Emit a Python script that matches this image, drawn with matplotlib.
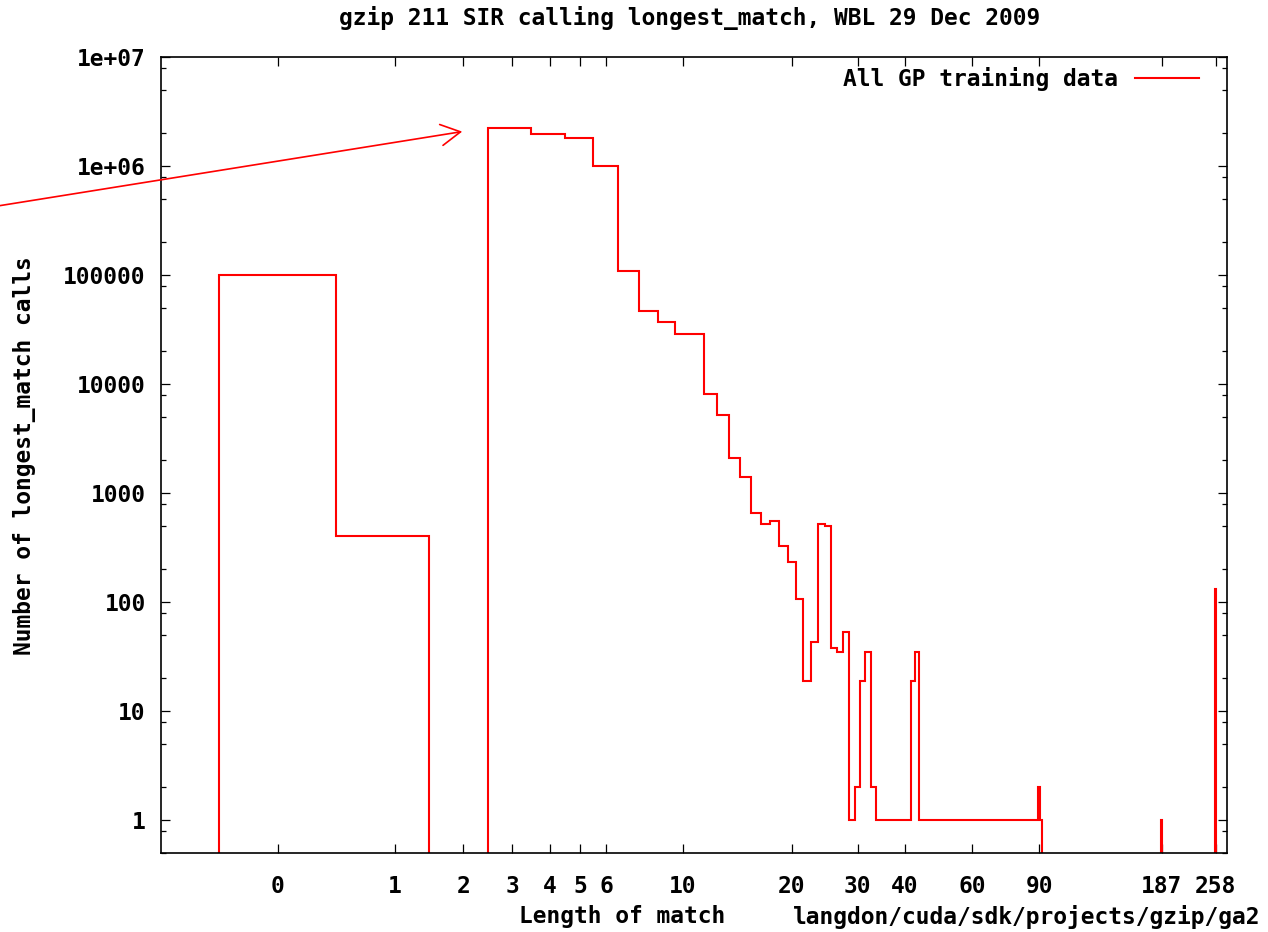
import numpy as np
import matplotlib
matplotlib.use("Agg")
import matplotlib.pyplot as plt
from matplotlib.ticker import FixedLocator, LogLocator, NullFormatter

# ---------------- data ----------------
title = "gzip 211 SIR calling longest_match, WBL 29 Dec 2009"
xlabel = "Length of match"
xnote = "langdon/cuda/sdk/projects/gzip/ga2"
ylabel = "Number of longest_match calls"
series_label = "All GP training data"

max_length = 258
# non-zero counts per match length (every other length 0..258 has count 0)
lengths = [0, 1, 3, 4, 5, 6, 7, 8, 9, 10, 11, 12, 13, 14, 15, 16, 17, 18, 19,
           20, 21, 22, 23, 24, 25, 26, 27, 28, 29, 30, 31, 32, 33,
           34, 35, 36, 37, 38, 39, 40, 41, 42, 43,
           44, 45, 46, 47, 48, 49, 50, 51, 52, 53, 54, 55, 56, 57, 58, 59,
           60, 61, 62, 63, 64, 65, 66, 67, 68, 69, 70, 71, 72, 73, 74, 75,
           76, 77, 78, 79, 80, 81, 82, 83, 84, 85, 86, 87, 88, 89,
           90, 91, 187, 258]
counts = [100000, 400, 2220000, 1970000, 1800000, 1000000, 109000, 47000, 37000,
          28600, 28600, 8100, 5160, 2110, 1400, 660, 516, 557, 326,
          233, 106, 19, 43, 516, 498, 38, 35, 53, 1, 2, 19, 35, 2,
          1, 1, 1, 1, 1, 1, 1, 1, 19, 35,
          1, 1, 1, 1, 1, 1, 1, 1, 1, 1, 1, 1, 1, 1, 1, 1,
          1, 1, 1, 1, 1, 1, 1, 1, 1, 1, 1, 1, 1, 1, 1, 1,
          1, 1, 1, 1, 1, 1, 1, 1, 1, 1, 1, 1, 1, 1,
          2, 1, 1, 131]

xtick_values = [0, 1, 2, 3, 4, 5, 6, 10, 20, 30, 40, 60, 90, 187, 258]
ytick_values = [1, 10, 100, 1000, 10000, 100000, 1000000, 10000000]
ytick_labels = ["1", "10", "100", "1000", "10000", "100000", "1e+06", "1e+07"]
xlim = (-0.5, 275.8)
ylim = (0.5, 1e7)
arrow_tip = (1.98, 2.07e6)
arrow_tail = (-0.81, 4.3e5)

# ---------------- build the histogram steps ----------------
all_lengths = np.arange(0, max_length + 1)
all_counts = np.zeros(len(all_lengths))
all_counts[np.array(lengths)] = counts


def fwd(x):
    x = np.asarray(x, dtype=float)
    return np.log(np.clip(x + 1.0, 1e-12, None))


def inv(t):
    return np.exp(np.asarray(t, dtype=float)) - 1.0


t = fwd(all_lengths)
mids = (t[:-1] + t[1:]) / 2
edges_t = np.concatenate([[t[0] - (t[1] - t[0]) / 2], mids,
                          [t[-1] + (t[-1] - t[-2]) / 2]])
edges = inv(edges_t)
xs = np.repeat(edges, 2)
ys = np.concatenate([[0.0], np.repeat(all_counts, 2), [0.0]])

# ---------------- figure ----------------
W, H = 1268, 932
FS = 16.5
FONT = dict(family="DejaVu Sans Mono", weight="bold", size=FS)
plt.rcParams["font.family"] = "DejaVu Sans Mono"
plt.rcParams["font.weight"] = "bold"

fig = plt.figure(figsize=(W / 100, H / 100), dpi=100)
ax = fig.add_axes([161 / W, 1 - 853 / H, (1227 - 161) / W, (853 - 57) / H])

ax.set_xscale("function", functions=(fwd, inv))
ax.set_yscale("log")

line, = ax.plot(xs, ys, color="#ff0000", lw=1.5, label=series_label,
                solid_joinstyle="miter")

ax.set_xlim(*xlim)
ax.set_ylim(*ylim)

ax.xaxis.set_major_locator(FixedLocator(xtick_values))
ax.set_xticklabels([str(v) for v in xtick_values])
ax.xaxis.set_minor_locator(FixedLocator([]))
ax.set_yticks(ytick_values, labels=ytick_labels)
ax.yaxis.set_minor_locator(LogLocator(base=10, subs=(2, 5, 8), numticks=30))
ax.yaxis.set_minor_formatter(NullFormatter())

for lab in ax.get_xticklabels() + ax.get_yticklabels():
    lab.set_fontfamily("DejaVu Sans Mono")
    lab.set_fontweight("bold")
    lab.set_fontsize(FS)

ax.tick_params(which="both", direction="in", top=True, right=True,
               width=0.9, color="black")
ax.tick_params(which="major", length=6.5)
ax.tick_params(which="minor", length=3.6)
ax.tick_params(axis="x", which="major", pad=16)
ax.tick_params(axis="y", which="major", pad=11)
for s in ax.spines.values():
    s.set_linewidth(1.2)

fig.text(690 / W, 1 - 18 / H, title, ha="center", va="center", **FONT)
fig.text(25 / W, 1 - 456 / H, ylabel, rotation=90, ha="center", va="center", **FONT)
fig.text(622 / W, 1 - 917 / H, xlabel, ha="center", va="center", **FONT)
fig.text(1027 / W, 1 - 917 / H, xnote, ha="center", va="center", **FONT)

leg = ax.legend(loc="upper right", markerfirst=False, frameon=False,
                handlelength=2.8, handletextpad=0.75, borderaxespad=0.3,
                bbox_to_anchor=(1 - 12 / 1066, 1 + 6 / 796),
                prop=dict(family="DejaVu Sans Mono", weight="bold", size=FS))

ax.annotate("", xy=arrow_tip, xytext=arrow_tail, xycoords="data",
            textcoords="data", annotation_clip=False,
            arrowprops=dict(arrowstyle="->,head_length=0.7,head_width=0.38",
                            color="#ff0000", lw=1.2, mutation_scale=20,
                            shrinkA=0, shrinkB=0))

fig.savefig("out.png", dpi=100)
